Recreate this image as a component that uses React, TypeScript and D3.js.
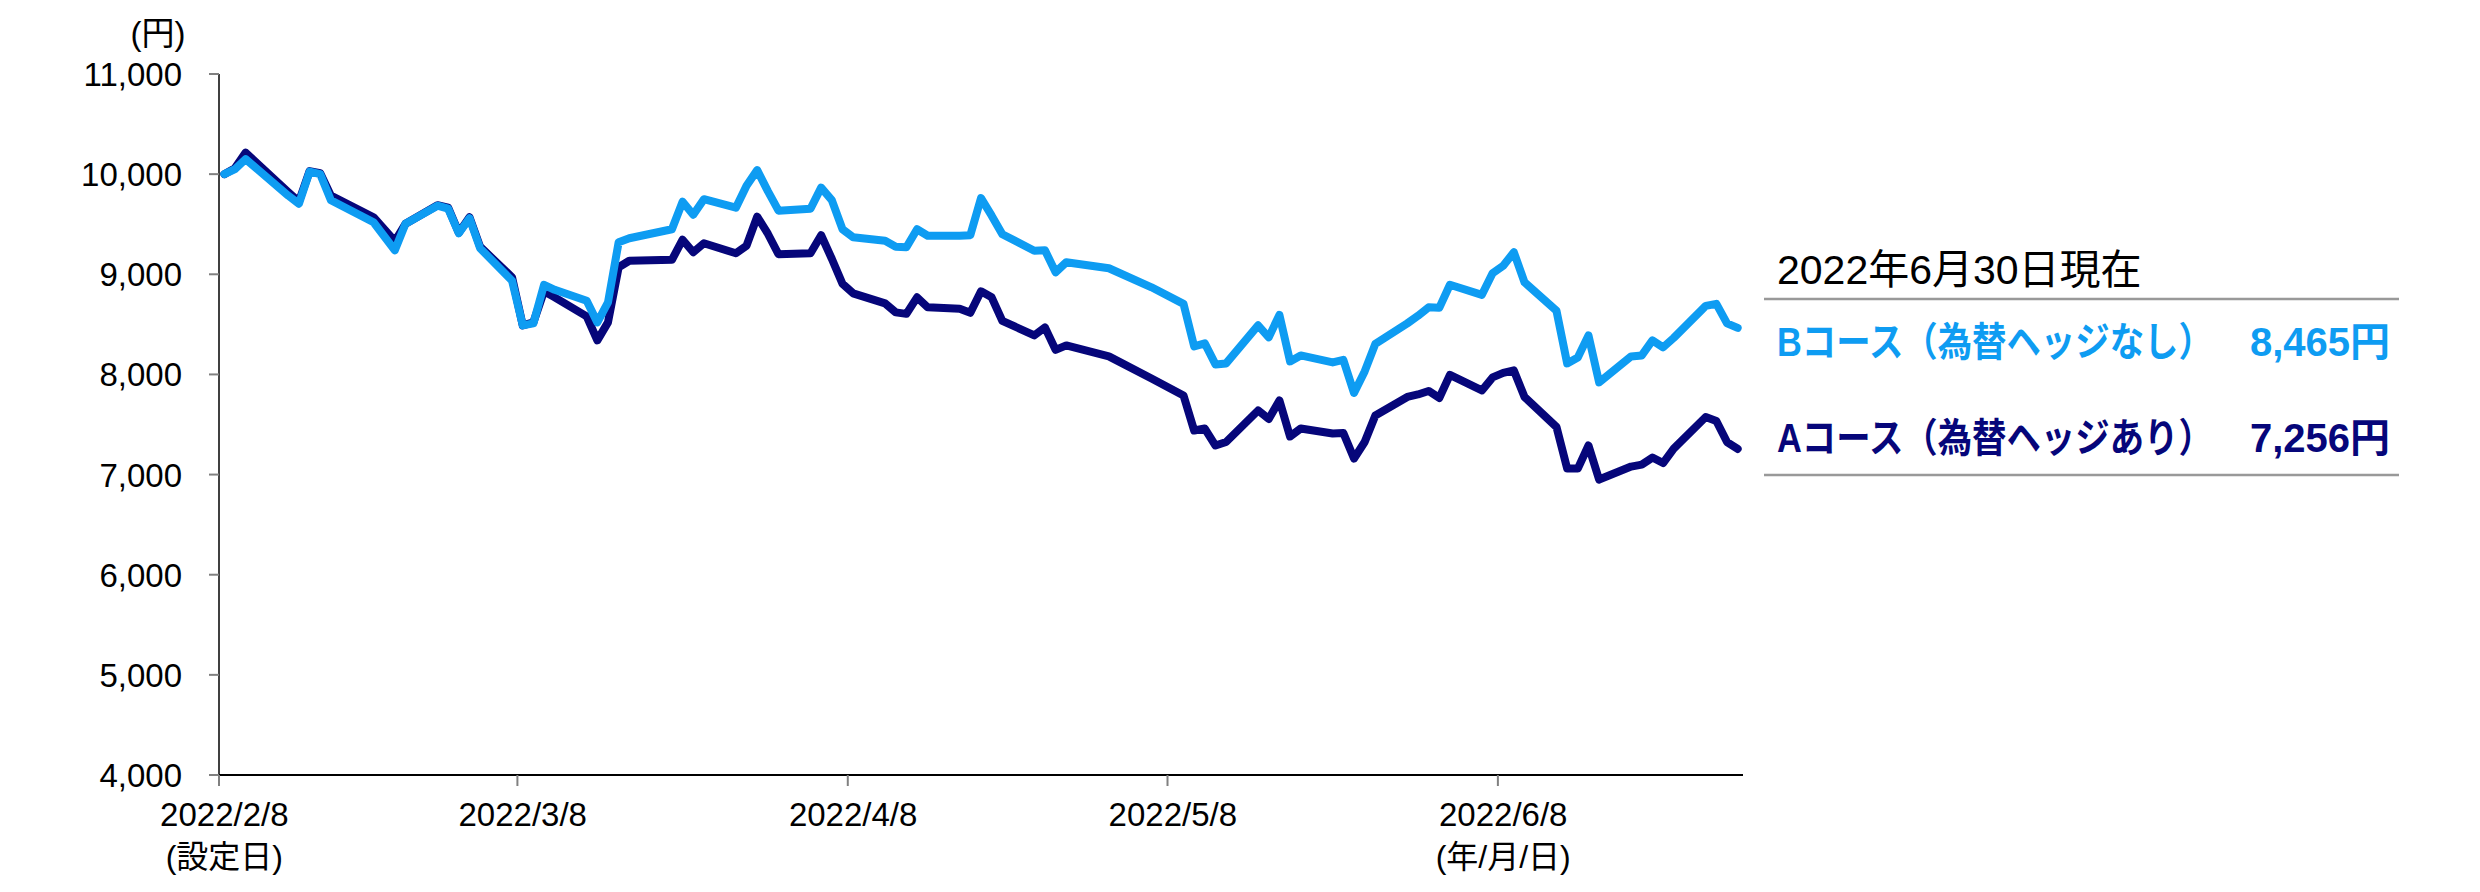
import React from "react";
import * as d3 from "d3";

const dates = [
  "2022-02-08","2022-02-09","2022-02-10","2022-02-14","2022-02-15","2022-02-16","2022-02-17","2022-02-18",
  "2022-02-22","2022-02-24","2022-02-25","2022-02-28","2022-03-01","2022-03-02","2022-03-03","2022-03-04",
  "2022-03-07","2022-03-08","2022-03-09","2022-03-10","2022-03-11","2022-03-14","2022-03-15","2022-03-16",
  "2022-03-17","2022-03-18","2022-03-22","2022-03-23","2022-03-24","2022-03-25","2022-03-28","2022-03-29",
  "2022-03-30","2022-03-31","2022-04-01","2022-04-04","2022-04-05","2022-04-06","2022-04-07","2022-04-08",
  "2022-04-11","2022-04-12","2022-04-13","2022-04-14","2022-04-15","2022-04-18","2022-04-19","2022-04-20",
  "2022-04-21","2022-04-22","2022-04-25","2022-04-26","2022-04-27","2022-04-28","2022-05-02","2022-05-06",
  "2022-05-09","2022-05-10","2022-05-11","2022-05-12","2022-05-13","2022-05-16","2022-05-17","2022-05-18",
  "2022-05-19","2022-05-20","2022-05-23","2022-05-24","2022-05-25","2022-05-26","2022-05-27","2022-05-30",
  "2022-05-31","2022-06-01","2022-06-02","2022-06-03","2022-06-06","2022-06-07","2022-06-08","2022-06-09",
  "2022-06-10","2022-06-13","2022-06-14","2022-06-15","2022-06-16","2022-06-17","2022-06-20","2022-06-21",
  "2022-06-22","2022-06-23","2022-06-24","2022-06-27","2022-06-28","2022-06-29","2022-06-30"
];

// Bコース（為替ヘッジなし）
const courseB = [
  10000,10050,10150,9785,9705,10025,10000,9740,
  9520,9240,9505,9685,9655,9410,9560,9260,
  8935,8490,8510,8895,8845,8735,8520,8720,
  9320,9360,9450,9725,9595,9750,9665,9885,
  10040,9830,9635,9655,9865,9740,9450,9370,
  9335,9275,9270,9450,9385,9385,9390,9760,
  9585,9400,9235,9240,9020,9120,9060,8870,
  8705,8280,8310,8100,8110,8490,8370,8595,
  8130,8190,8120,8145,7815,8030,8305,8510,
  8585,8670,8665,8895,8795,9010,9085,9220,
  8920,8635,8110,8170,8390,7920,8180,8190,
  8340,8270,8365,8685,8705,8510,8465
];

// Aコース（為替ヘッジあり）
const courseA = [
  10000,10060,10215,9820,9725,10030,10010,9785,
  9570,9330,9505,9690,9665,9415,9570,9275,
  8970,8490,8520,8830,8770,8580,8340,8520,
  9070,9135,9145,9345,9220,9310,9210,9285,
  9575,9405,9200,9210,9390,9155,8905,8810,
  8710,8620,8605,8770,8670,8655,8615,8830,
  8770,8535,8390,8470,8245,8290,8180,7960,
  7790,7440,7460,7290,7325,7640,7555,7740,
  7380,7460,7410,7415,7160,7325,7590,7775,
  7800,7835,7765,7995,7840,7970,8015,8040,
  7775,7475,7060,7060,7290,6950,7080,7100,
  7170,7115,7260,7575,7535,7325,7256
];

const yTicks = [4000, 5000, 6000, 7000, 8000, 9000, 10000, 11000];
const xTickDates = ["2022-02-08", "2022-03-08", "2022-04-08", "2022-05-08", "2022-06-08"];
const xTickLabels = ["2022/2/8", "2022/3/8", "2022/4/8", "2022/5/8", "2022/6/8"];
const xTickSubLabels = ["(設定日)", "", "", "", "(年/月/日)"];

const legendTitle = "2022年6月30日現在";
const seriesNames = ["Bコース（為替ヘッジなし）", "Aコース（為替ヘッジあり）"];
const seriesLatest = ["8,465円", "7,256円"];

const COLOR_B = "#0e9cf2";
const COLOR_A = "#06067a";
const FONT = "'Liberation Sans', Arial, 'Noto Sans CJK JP', sans-serif";

export default function App() {
  const parse = d3.timeParse("%Y-%m-%d");
  const x = d3
    .scaleTime()
    .domain([parse("2022-02-08") as Date, parse("2022-07-01") as Date])
    .range([219, 1743]);
  const y = d3.scaleLinear().domain([4000, 11000]).range([775, 74]);

  const half = 12 * 3600 * 1000;
  const pts = dates.map((d) => new Date((parse(d) as Date).getTime() + half));

  const line = d3
    .line<number>()
    .x((_, i) => x(pts[i]))
    .y((v) => y(v));

  const fmt = d3.format(",");
  const nameScale = 0.86;

  return (
    <svg
      width={2480}
      height={892}
      style={{ position: "absolute", left: 0, top: 0, background: "#fff" }}
      fontFamily={FONT}
    >
      <rect x={0} y={0} width={2480} height={892} fill="#fff" />
      {/* unit */}
      <text x={158} y={45} fontSize={33} textAnchor="middle" fill="#000">
        (円)
      </text>

      {/* y axis */}
      <line x1={219} x2={219} y1={y(11000)} y2={y(4000)} stroke="#000" strokeWidth={1.5} />
      {yTicks.map((t) => (
        <g key={t}>
          <line x1={209} x2={219} y1={y(t)} y2={y(t)} stroke="#808080" strokeWidth={2} />
          <text x={182} y={y(t) + 12} fontSize={33} textAnchor="end" fill="#000">
            {fmt(t)}
          </text>
        </g>
      ))}

      {/* x axis */}
      <line x1={219} x2={1743} y1={775} y2={775} stroke="#000" strokeWidth={2} />
      {xTickDates.map((d, i) => {
        const tx = x(parse(d) as Date);
        const lx = x(new Date((parse(d) as Date).getTime() + half));
        return (
          <g key={d}>
            <line x1={tx} x2={tx} y1={775} y2={786} stroke="#808080" strokeWidth={2} />
            <text x={lx} y={826} fontSize={33} textAnchor="middle" fill="#000">
              {xTickLabels[i]}
            </text>
            {xTickSubLabels[i] && (
              <text x={lx} y={868} fontSize={32} textAnchor="middle" fill="#000">
                {xTickSubLabels[i]}
              </text>
            )}
          </g>
        );
      })}

      {/* lines */}
      <path
        d={line(courseA) || ""}
        fill="none"
        stroke={COLOR_A}
        strokeWidth={8}
        strokeLinejoin="round"
        strokeLinecap="round"
      />
      <path
        d={line(courseB) || ""}
        fill="none"
        stroke={COLOR_B}
        strokeWidth={8}
        strokeLinejoin="round"
        strokeLinecap="round"
      />

      {/* legend box */}
      <text x={1777} y={284} fontSize={41} fill="#000">
        {legendTitle}
      </text>
      <line x1={1764} x2={2399} y1={299} y2={299} stroke="#999" strokeWidth={2.5} />
      <line x1={1764} x2={2399} y1={475} y2={475} stroke="#999" strokeWidth={2.5} />

      <g transform={`translate(1777,356) scale(${nameScale},1)`}>
        <text x={0} y={0} fontSize={40} fontWeight="bold" fill={COLOR_B}>
          {seriesNames[0]}
        </text>
      </g>
      <text x={2390} y={356} fontSize={40} fontWeight="bold" fill={COLOR_B} textAnchor="end">
        {seriesLatest[0]}
      </text>
      <g transform={`translate(1777,452) scale(${nameScale},1)`}>
        <text x={0} y={0} fontSize={40} fontWeight="bold" fill={COLOR_A}>
          {seriesNames[1]}
        </text>
      </g>
      <text x={2390} y={452} fontSize={40} fontWeight="bold" fill={COLOR_A} textAnchor="end">
        {seriesLatest[1]}
      </text>
    </svg>
  );
}
